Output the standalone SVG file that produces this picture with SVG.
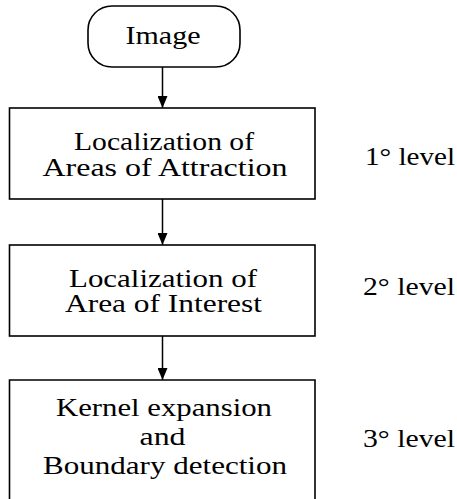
<svg xmlns="http://www.w3.org/2000/svg" width="457" height="499" viewBox="0 0 457 499">
<style>
.box{fill:#fff;stroke:#000;stroke-width:1.6}
.t{font-family:"Liberation Serif","Times New Roman",serif;font-size:25px;fill:#000;text-anchor:middle}
.lv{font-family:"Liberation Serif","Times New Roman",serif;font-size:25px;fill:#000}
.edge{stroke:#000;stroke-width:1.5;fill:none}
</style>
<defs>
<marker id="arr" markerWidth="12" markerHeight="10" refX="12" refY="5" orient="auto" markerUnits="userSpaceOnUse" viewBox="0 0 12 10">
<path d="M0,0 L12,5 L0,10 Z" fill="#000"/>
</marker>
</defs>
<rect width="457" height="499" fill="#fff"/>
<g id="connectors">
<line class="edge" x1="162.5" y1="67" x2="162.5" y2="108" marker-end="url(#arr)"/>
<line class="edge" x1="162.5" y1="199" x2="162.5" y2="245" marker-end="url(#arr)"/>
<line class="edge" x1="162.5" y1="336" x2="162.5" y2="380" marker-end="url(#arr)"/>
</g>
<g id="image">
<rect class="box" x="88" y="6" width="152" height="61" rx="24" ry="24"/>
<text class="t" x="163" y="44" textLength="75" lengthAdjust="spacingAndGlyphs">Image</text>
</g>
<g id="level1">
<rect class="box" x="9.5" y="108" width="305.5" height="91"/>
<text class="t" x="164" y="150" textLength="180" lengthAdjust="spacingAndGlyphs">Localization of</text>
<text class="t" x="165" y="176" textLength="245" lengthAdjust="spacingAndGlyphs">Areas of Attraction</text>
</g>
<g id="level2">
<rect class="box" x="9.5" y="245" width="305.5" height="91"/>
<text class="t" x="163" y="287" textLength="188" lengthAdjust="spacingAndGlyphs">Localization of</text>
<text class="t" x="163.5" y="312" textLength="197" lengthAdjust="spacingAndGlyphs">Area of Interest</text>
</g>
<g id="level3">
<path class="box" d="M9.5,505 L9.5,380 L315,380 L315,505"/>
<text class="t" x="164" y="416" textLength="216" lengthAdjust="spacingAndGlyphs">Kernel expansion</text>
<text class="t" x="162.5" y="445" textLength="46" lengthAdjust="spacingAndGlyphs">and</text>
<text class="t" x="165" y="474" textLength="244" lengthAdjust="spacingAndGlyphs">Boundary detection</text>
</g>
<g id="labels">
<text class="lv" x="365" y="165" textLength="90" lengthAdjust="spacingAndGlyphs">1° level</text>
<text class="lv" x="363" y="295" textLength="92" lengthAdjust="spacingAndGlyphs">2° level</text>
<text class="lv" x="363" y="447" textLength="92" lengthAdjust="spacingAndGlyphs">3° level</text>
</g>
</svg>
